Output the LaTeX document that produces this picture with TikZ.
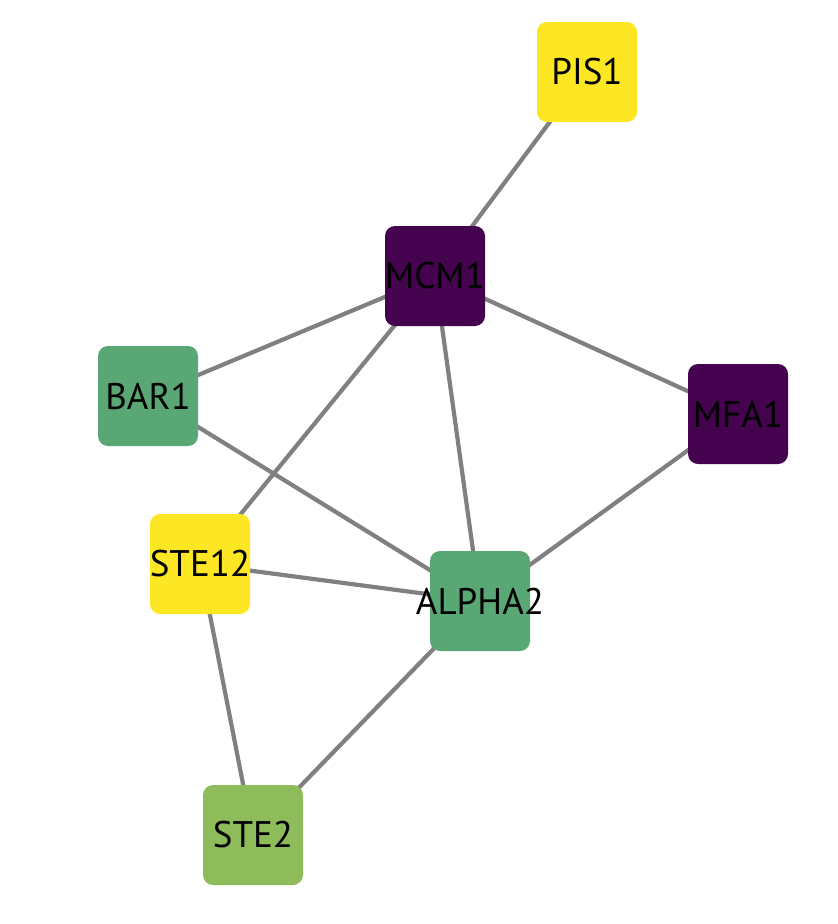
\documentclass[tikz,border=0pt]{standalone}
\usepackage{fontspec}
\setsansfont{PT Sans}
\usetikzlibrary{backgrounds}
\definecolor{vyellow}{HTML}{FDE725}
\definecolor{vpurple}{HTML}{45024F}
\definecolor{vgreen}{HTML}{59A775}
\definecolor{vlime}{HTML}{8FBC5B}
\definecolor{edgegray}{HTML}{808080}
\newcommand{\gname}[1]{\makebox[0pt]{#1}}

\begin{document}
\begin{tikzpicture}[x=1pt,y=-1pt,
    gene/.style={rectangle,rounded corners=10pt,minimum size=100pt,inner sep=0pt,
                 font=\sffamily\fontsize{37}{37}\selectfont,text=black},
    link/.style={draw=edgegray,line width=4.2pt}]
    \useasboundingbox (0,0) rectangle (838,924);
    \node[gene,fill=vyellow] (PIS1)   at (587,72)  {\gname{PIS1}};
    \node[gene,fill=vpurple] (MCM1)   at (435,276) {\gname{MCM1}};
    \node[gene,fill=vgreen]  (BAR1)   at (148,396) {\gname{BAR1}};
    \node[gene,fill=vpurple] (MFA1)   at (738,414) {\gname{MFA1}};
    \node[gene,fill=vyellow] (STE12)  at (200,564) {\gname{STE12}};
    \node[gene,fill=vgreen]  (ALPHA2) at (480,601) {\gname{ALPHA2}};
    \node[gene,fill=vlime]   (STE2)   at (253,835) {\gname{STE2}};
    \begin{scope}[on background layer]
    \path[link] (PIS1.center)   edge (MCM1.center)
                (MCM1.center)   edge (BAR1.center)
                                edge (MFA1.center)
                                edge (STE12.center)
                                edge (ALPHA2.center)
                (BAR1.center)   edge (ALPHA2.center)
                (STE12.center)  edge (ALPHA2.center)
                                edge (STE2.center)
                (MFA1.center)   edge (ALPHA2.center)
                (ALPHA2.center) edge (STE2.center);
    \end{scope}
\end{tikzpicture}
\end{document}
